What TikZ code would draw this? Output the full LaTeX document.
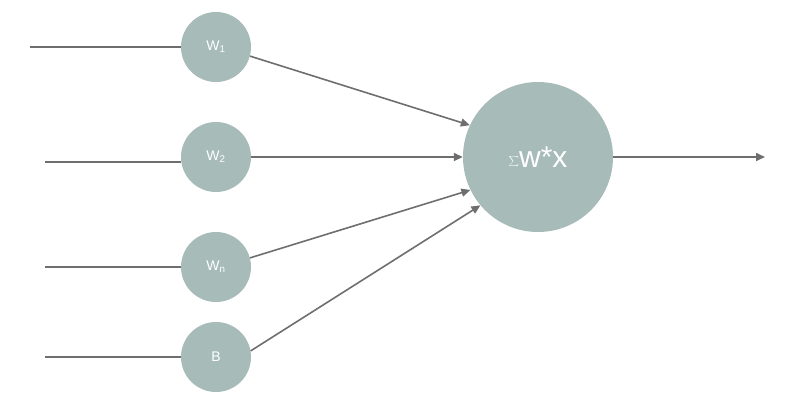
\documentclass[tikz,border=0pt]{standalone}
\usepackage{fontspec}
\setmainfont{Liberation Sans}
\usetikzlibrary{arrows.meta}
\definecolor{nodefill}{HTML}{A7BBB8}
\definecolor{linec}{HTML}{6E6E6E}
\begin{document}
\begin{tikzpicture}[x=1pt,y=-1pt,
  w/.style={circle,fill=nodefill,minimum size=70pt,inner sep=0pt,text=white,font=\fontsize{14}{16}\selectfont},
  big/.style={circle,fill=nodefill,minimum size=150pt,inner sep=0pt,text=white,font=\fontsize{30}{34}\selectfont},
  ln/.style={draw=linec,line width=1.6pt},
  ar/.style={ln,-{Triangle[length=9pt,width=8pt]}}]
\useasboundingbox (0,0) rectangle (812,410);
\node[w] (w1) at (216,47) {W\textsubscript{1}};
\node[w] (w2) at (216,157) {W\textsubscript{2}};
\node[w] (wn) at (216,267) {W\textsubscript{n}};
\node[w] (b) at (216,357) {B};
\node[big] (s) at (538,157) {$\sum$w*x};
\coordinate (i1) at (30,47);
\coordinate (i2) at (45,162);
\coordinate (i3) at (45,267);
\coordinate (i4) at (45,357);
\coordinate (out) at (765,157);
\draw[ln] (i1) -- (w1);
\draw[ln] (i2) -- (w2.west|-i2);
\draw[ln] (i3) -- (wn);
\draw[ln] (i4) -- (b);
\draw[ar] (w1.-15) -- (s.155);
\draw[ar] (w2) -- (s);
\draw[ar] (wn.15) -- (s.206);
\draw[ar] (b.10) -- (s.220);
\draw[ar] (s) -- (out);
\end{tikzpicture}
\end{document}
